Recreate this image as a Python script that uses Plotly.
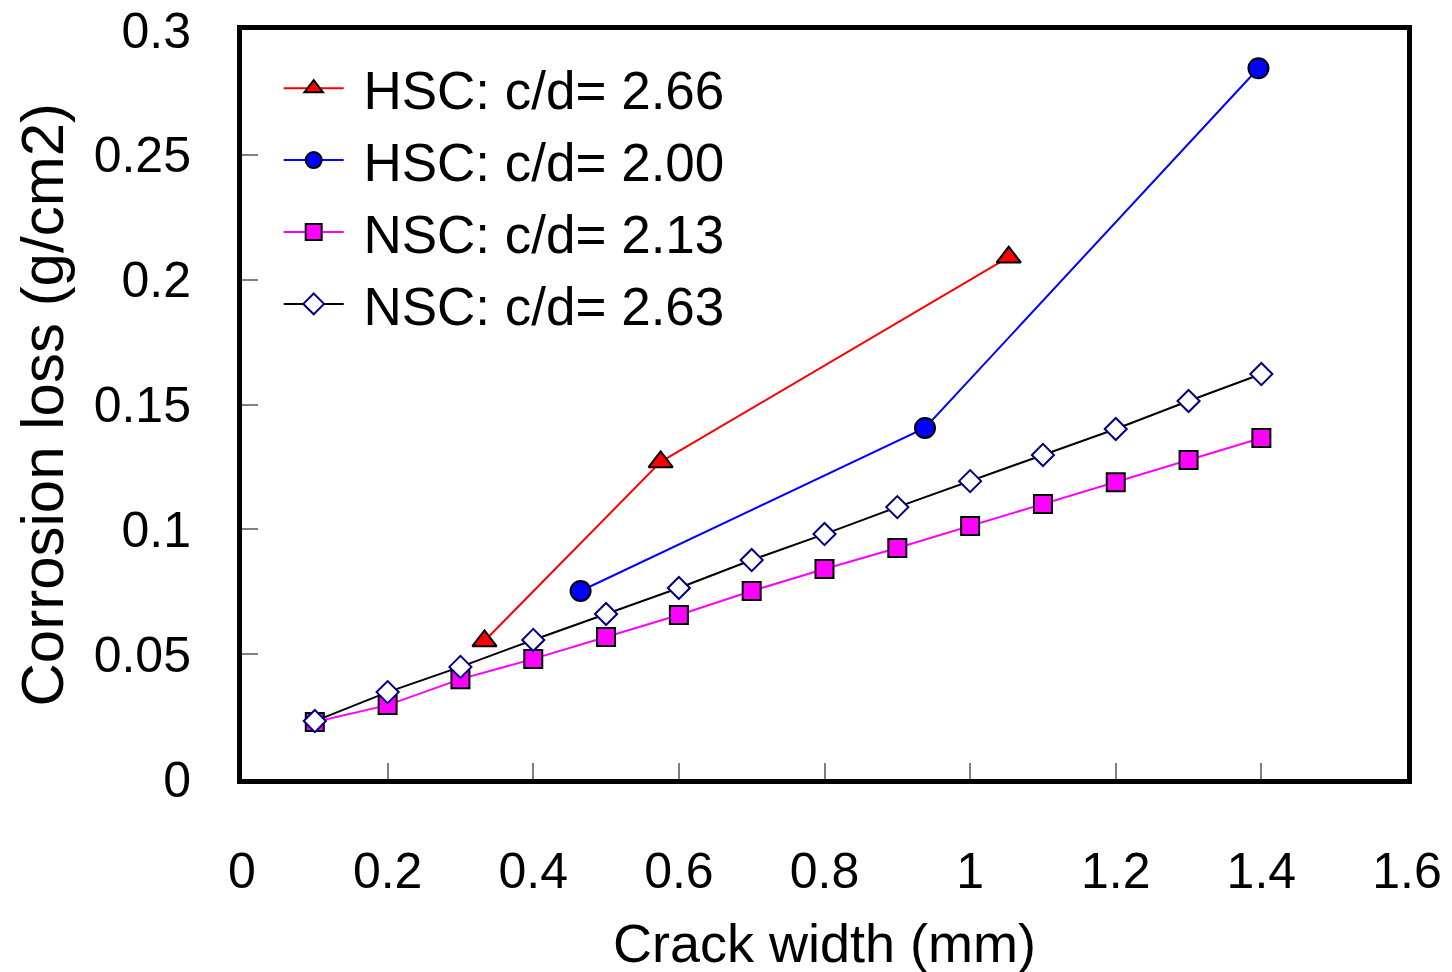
import plotly.graph_objects as go

# ---- data ----
hsc266_x = [0.333, 0.575, 1.053]
hsc266_y = [0.0553, 0.127, 0.209]

hsc200_x = [0.465, 0.938, 1.396]
hsc200_y = [0.0753, 0.1406, 0.2847]

nsc_x = [0.1, 0.2, 0.3, 0.4, 0.5, 0.6, 0.7, 0.8, 0.9, 1.0, 1.1, 1.2, 1.3, 1.4]
nsc213_y = [0.0228, 0.0296, 0.0400, 0.0481, 0.0569, 0.0657, 0.0753,
            0.0841, 0.0925, 0.1013, 0.1101, 0.1189, 0.1278, 0.1366]
nsc263_y = [0.0232, 0.0348, 0.0449, 0.0557, 0.0661, 0.0765, 0.0877,
            0.0981, 0.1089, 0.1193, 0.1298, 0.1402, 0.1514, 0.1622]

x_ticks = [0, 0.2, 0.4, 0.6, 0.8, 1, 1.2, 1.4, 1.6]
x_tick_labels = ["0", "0.2", "0.4", "0.6", "0.8", "1", "1.2", "1.4", "1.6"]
y_ticks = [0, 0.05, 0.1, 0.15, 0.2, 0.25, 0.3]
y_tick_labels = ["0", "0.05", "0.1", "0.15", "0.2", "0.25", "0.3"]

series_names = ["HSC: c/d= 2.66", "HSC: c/d= 2.00", "NSC: c/d= 2.13", "NSC: c/d= 2.63"]
x_title = "Crack width (mm)"
y_title = "Corrosion loss (g/cm2)"

FONT = "Liberation Sans, Arial, sans-serif"
NB = "\u00a0"

fig = go.Figure()
fig.add_trace(go.Scatter(
    x=hsc266_x, y=hsc266_y, mode="lines+markers", name=NB + series_names[0],
    line=dict(color="#ff0000", width=2),
    marker=dict(symbol="triangle-up", size=21, color="#ff0000",
                line=dict(color="black", width=2))))
fig.add_trace(go.Scatter(
    x=hsc200_x, y=hsc200_y, mode="lines+markers", name=NB + series_names[1],
    line=dict(color="#0000ff", width=2),
    marker=dict(symbol="circle", size=20, color="#0000ff",
                line=dict(color="black", width=2))))
fig.add_trace(go.Scatter(
    x=nsc_x, y=nsc213_y, mode="lines+markers", name=NB + series_names[2],
    line=dict(color="#ff00ff", width=2),
    marker=dict(symbol="square", size=18, color="#ff00ff",
                line=dict(color="black", width=2))))
fig.add_trace(go.Scatter(
    x=nsc_x, y=nsc263_y, mode="lines+markers", name=NB + series_names[3],
    line=dict(color="black", width=2),
    marker=dict(symbol="diamond", size=17, color="white",
                line=dict(color="#000080", width=2))))

fig.update_layout(
    width=1452, height=972,
    margin=dict(l=234, r=53, t=22, b=201),
    paper_bgcolor="white", plot_bgcolor="white",
    font=dict(family=FONT, color="black"),
    showlegend=True,
    legend=dict(x=0.0315, y=0.977, xanchor="left", yanchor="top",
                font=dict(family=FONT, size=53, color="black"),
                bgcolor="rgba(0,0,0,0)", itemwidth=60, tracegroupgap=0),
    xaxis=dict(range=[0, 1.6], tickmode="array", tickvals=x_ticks,
               ticktext=x_tick_labels, ticks="inside", ticklen=16,
               tickwidth=1.5, tickcolor="#808080", showgrid=False,
               zeroline=False, showline=True, linecolor="black",
               linewidth=5, mirror=True, ticklabelstandoff=44,
               automargin=False, ticklabeloverflow="allow",
               tickfont=dict(family=FONT, size=50),
               title=dict(text=x_title,
                          font=dict(family=FONT, size=54), standoff=28)),
    yaxis=dict(range=[0, 0.3], tickmode="array", tickvals=y_ticks,
               ticktext=y_tick_labels, ticks="inside", ticklen=16,
               tickwidth=1.5, tickcolor="#808080", showgrid=False,
               zeroline=False, showline=True, linecolor="black",
               linewidth=5, mirror=True, ticklabelstandoff=36,
               automargin=False, ticklabeloverflow="allow",
               tickfont=dict(family=FONT, size=50)),
    annotations=[dict(text=y_title, textangle=-90, xref="paper", yref="paper",
                      x=0, y=0.5, xanchor="center", yanchor="middle",
                      xshift=-200, yshift=0, showarrow=False,
                      font=dict(family=FONT, size=60, color="black"))],
)

fig.write_html("out.html")
